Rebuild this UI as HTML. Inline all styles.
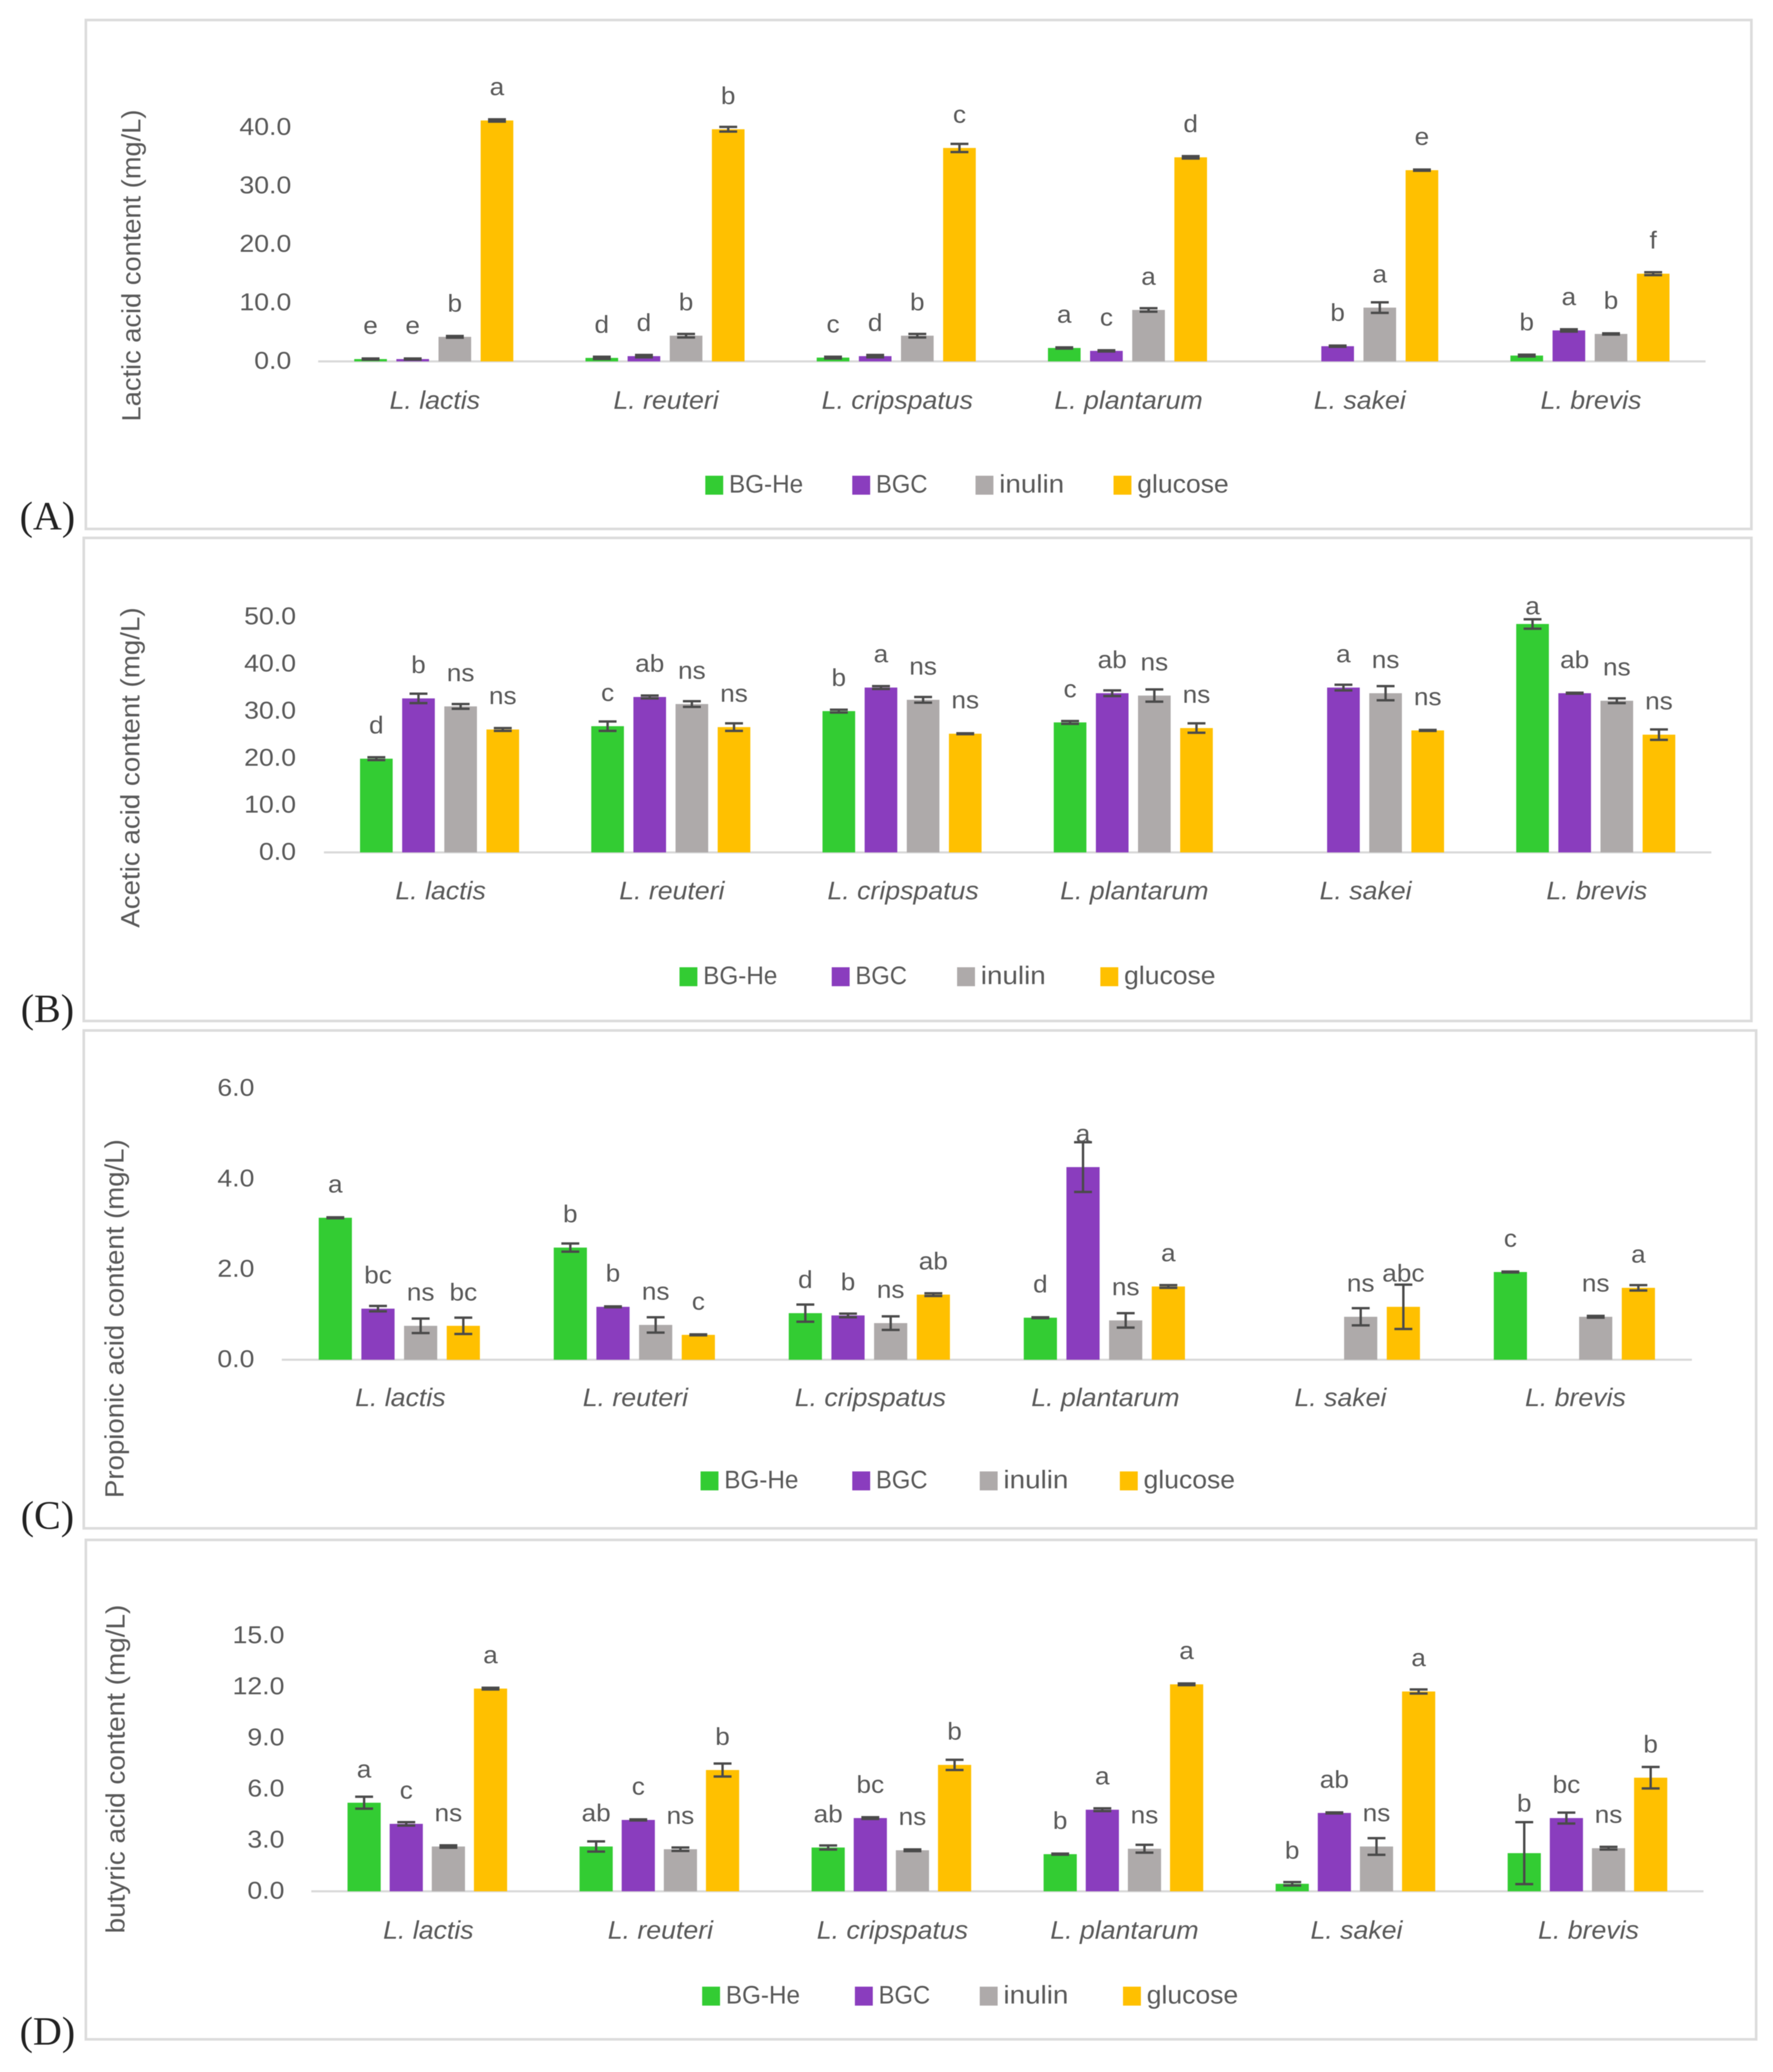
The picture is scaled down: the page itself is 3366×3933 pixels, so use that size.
<!DOCTYPE html>
<html lang="en">
<head>
<meta charset="utf-8">
<title>Organic acid content by strain and carbon source</title>
<style>
html,body{margin:0;padding:0;background:#fff;}
body{width:3366px;height:3933px;overflow:hidden;}
svg{display:block;filter:blur(0.8px);}
text{font-family:"Liberation Sans",sans-serif;fill:#595959;}
.panel-tag{font-family:"Liberation Serif",serif;fill:#222;}
</style>
</head>
<body>
<svg id="figure" xmlns="http://www.w3.org/2000/svg" width="3366" height="3933" viewBox="0 0 3366 3933"></svg>
<script>
const categories = ['L. lactis', 'L. reuteri', 'L. cripspatus', 'L. plantarum', 'L. sakei', 'L. brevis'];
const seriesNames = ['BG-He', 'BGC', 'inulin', 'glucose'];
const seriesColors = ['#33cc33', '#8a3dbe', '#aeaaaa', '#ffc000'];

// Values are listed per category: BG-He, BGC, inulin, glucose. null = no bar.
const lacticTicks = [0, 10, 20, 30, 40];
const lacticValues = [[0.4, 0.4, 4.2, 41.2], [0.6, 0.9, 4.4, 39.7], [0.65, 0.9, 4.4, 36.5], [2.3, 1.8, 8.8, 34.9], [null, 2.6, 9.2, 32.7], [1.0, 5.3, 4.7, 15.0]];
const lacticErrors = [[0.1, 0.1, 0.15, 0.2], [0.2, 0.2, 0.3, 0.4], [0.15, 0.2, 0.3, 0.7], [0.1, 0.1, 0.3, 0.2], [null, 0.1, 0.9, 0.1], [0.15, 0.2, 0.1, 0.25]];
const lacticLetters = [['e', 'e', 'b', 'a'], ['d', 'd', 'b', 'b'], ['c', 'd', 'b', 'c'], ['a', 'c', 'a', 'd'], ['', 'b', 'a', 'e'], ['b', 'a', 'b', 'f']];

const aceticTicks = [0, 10, 20, 30, 40, 50];
const aceticValues = [[19.9, 32.7, 31.0, 26.1], [26.8, 33.0, 31.5, 26.6], [30.0, 35.0, 32.4, 25.2], [27.6, 33.8, 33.3, 26.4], [null, 35.0, 33.8, 25.9], [48.5, 33.8, 32.2, 25.0]];
const aceticErrors = [[0.3, 1.0, 0.5, 0.3], [1.0, 0.3, 0.6, 0.8], [0.3, 0.3, 0.6, 0.1], [0.3, 0.6, 1.3, 1.0], [null, 0.6, 1.5, 0.1], [1.0, 0.1, 0.5, 1.1]];
const aceticLetters = [['d', 'b', 'ns', 'ns'], ['c', 'ab', 'ns', 'ns'], ['b', 'a', 'ns', 'ns'], ['c', 'ab', 'ns', 'ns'], ['', 'a', 'ns', 'ns'], ['a', 'ab', 'ns', 'ns']];

const propionicTicks = [0, 2, 4, 6];
const propionicValues = [[3.14, 1.13, 0.75, 0.75], [2.48, 1.17, 0.77, 0.55], [1.03, 0.98, 0.81, 1.44], [0.93, 4.26, 0.87, 1.62], [null, null, 0.95, 1.17], [1.94, null, 0.95, 1.59]];
const propionicErrors = [[0.01, 0.06, 0.16, 0.18], [0.09, 0.01, 0.17, 0.01], [0.19, 0.04, 0.15, 0.03], [0.01, 0.55, 0.16, 0.03], [null, null, 0.19, 0.49], [0.01, null, 0.02, 0.06]];
const propionicLetters = [['a', 'bc', 'ns', 'bc'], ['b', 'b', 'ns', 'c'], ['d', 'b', 'ns', 'ab'], ['d', 'a', 'ns', 'a'], ['', '', 'ns', 'abc'], ['c', '', 'ns', 'a']];

const butyricTicks = [0, 3, 6, 9, 12, 15];
const butyricValues = [[5.2, 3.96, 2.63, 11.9], [2.63, 4.19, 2.47, 7.12], [2.57, 4.3, 2.41, 7.42], [2.18, 4.79, 2.5, 12.15], [0.44, 4.6, 2.63, 11.73], [2.24, 4.3, 2.53, 6.67]];
const butyricErrors = [[0.35, 0.1, 0.07, 0.05], [0.3, 0.03, 0.1, 0.38], [0.12, 0.05, 0.05, 0.3], [0.03, 0.08, 0.23, 0.05], [0.1, 0.03, 0.49, 0.12], [1.82, 0.32, 0.08, 0.63]];
const butyricLetters = [['a', 'c', 'ns', 'a'], ['ab', 'c', 'ns', 'b'], ['ab', 'bc', 'ns', 'b'], ['b', 'a', 'ns', 'a'], ['b', 'ab', 'ns', 'a'], ['b', 'bc', 'ns', 'b']];

const svgNS = 'http://www.w3.org/2000/svg';
const figure = document.getElementById('figure');
const legendStretch = [0.96, 0.94, 1.1, 1.05];

function make(tag, parent, attrs, content) {
  const node = document.createElementNS(svgNS, tag);
  Object.keys(attrs).forEach(function (k) { node.setAttribute(k, attrs[k]); });
  if (content !== undefined) node.textContent = content;
  parent.appendChild(node);
  return node;
}

function stretch(node, factor) {
  node.setAttribute('lengthAdjust', 'spacingAndGlyphs');
  node.setAttribute('textLength', (node.getComputedTextLength() * factor).toFixed(1));
}

function drawPanel(cfg) {
  const group = make('g', figure, {});
  
  

  const frame = make('rect', group, {x: cfg.box[0], y: cfg.box[1], width: cfg.box[2] - cfg.box[0], height: cfg.box[3] - cfg.box[1], fill: '#fff', stroke: '#dcdcdc', 'stroke-width': 5});
  
  

  const maxTick = cfg.ticks[cfg.ticks.length - 1];
  const yScale = function (v) { return cfg.baseY - (v / maxTick) * (cfg.baseY - cfg.topY); };
  const band = (cfg.axisRight - cfg.axisLeft) / categories.length;
  const xBand = function (i) { return cfg.axisLeft + band * (i + 0.5); };
  const xBar = function (i, s) { return xBand(i) + (s - 1.5) * cfg.barPitch; };

  const title = make('text', group, {x: cfg.titleX - 2, y: cfg.titleY, 'font-size': 50, 'text-anchor': 'middle', transform: 'rotate(-90 ' + (cfg.titleX - 2) + ' ' + cfg.titleY + ')', dy: '.35em'}, cfg.title);
  title.setAttribute('textLength', cfg.titleLen);
  title.setAttribute('lengthAdjust', 'spacingAndGlyphs');
  
  

  cfg.ticks.forEach(function (t) {
    const label = make('text', group, {x: cfg.tickRight, y: yScale(t) - 2, 'font-size': 46, 'text-anchor': 'end', dy: '.35em'}, t.toFixed(1));
    stretch(label, 1.1);
    
    
  });

  const axis = make('line', group, {x1: cfg.axisLeft, x2: cfg.axisRight, y1: cfg.baseY, y2: cfg.baseY, stroke: '#d9d9d9', 'stroke-width': 4});
  
  

  categories.forEach(function (name, i) {
    const cat = make('text', group, {x: xBand(i) + 2, y: cfg.catY - 2, 'font-size': 48, 'font-style': 'italic', 'text-anchor': 'middle', dy: '.35em'}, name);
    stretch(cat, 1.055);
    
    

    seriesNames.forEach(function (seriesName, s) {
      const v = cfg.values[i][s];
      if (v === null) return;
      const e = cfg.errors[i][s];
      const cx = xBar(i, s);
      const top = yScale(v);

      const bar = make('rect', group, {x: cx - cfg.barWidth / 2, y: top, width: cfg.barWidth, height: cfg.baseY - top, fill: seriesColors[s]});
      
      

      const hi = yScale(v + e);
      const lo = yScale(v - e);
      const err = make('path', group, {d: 'M' + (cx - 17) + ' ' + hi + 'H' + (cx + 17) + 'M' + cx + ' ' + hi + 'V' + lo + 'M' + (cx - 17) + ' ' + lo + 'H' + (cx + 17), fill: 'none', stroke: '#4a4a4a', 'stroke-width': 4.5});
      
      

      const letter = cfg.letters[i][s];
      if (letter) {
        const lift = (cfg.letterLift && cfg.letterLift[i + '-' + s]) || 0;
        const sig = make('text', group, {x: cx, y: Math.max(top - 48 - lift, cfg.letterCeil), 'font-size': 46, 'text-anchor': 'middle'}, letter);
        stretch(sig, 1.08);
        
        
      }
    });
  });

  seriesNames.forEach(function (seriesName, s) {
    const sw = make('rect', group, {x: cfg.legendX[s], y: cfg.legendY - 18, width: 34, height: 36, fill: seriesColors[s]});
    
    
    const lt = make('text', group, {x: cfg.legendX[s] + 45, y: cfg.legendY - 3, 'font-size': 48, dy: '.35em'}, seriesName);
    stretch(lt, legendStretch[s]);
    
    
  });

  const tag = make('text', group, {x: 90, y: cfg.tagY, 'font-size': 76, 'text-anchor': 'middle', dy: '.3em', class: 'panel-tag'}, cfg.tag);
  
  
}

drawPanel({key: 'lactic', tag: '(A)', title: 'Lactic acid content (mg/L)', ticks: lacticTicks, values: lacticValues, errors: lacticErrors, letters: lacticLetters,
  box: [163, 38, 3325, 1004], baseY: 686, topY: 242, axisLeft: 604, axisRight: 3238, barPitch: 80, barWidth: 62,
  titleX: 251, titleY: 504, titleLen: 592, tickRight: 553, catY: 761, legendX: [1339, 1618, 1852, 2114], legendY: 921, tagY: 982, letterCeil: 0});
drawPanel({key: 'acetic', tag: '(B)', title: 'Acetic acid content (mg/L)', ticks: aceticTicks, values: aceticValues, errors: aceticErrors, letters: aceticLetters,
  box: [159, 1021, 3325, 1938], baseY: 1618, topY: 1171, axisLeft: 615, axisRight: 3249, barPitch: 80, barWidth: 62,
  titleX: 249, titleY: 1457, titleLen: 608, tickRight: 562, catY: 1692, legendX: [1290, 1579, 1817, 2089], legendY: 1854, tagY: 1917, letterCeil: 1166});
drawPanel({key: 'propionic', tag: '(C)', title: 'Propionic acid content (mg/L)', ticks: propionicTicks, values: propionicValues, errors: propionicErrors, letters: propionicLetters,
  box: [159, 1956, 3334, 2901], baseY: 2581, topY: 2066, axisLeft: 535, axisRight: 3212, barPitch: 81, barWidth: 63,
  titleX: 219, titleY: 2503, titleLen: 681, tickRight: 483, catY: 2654, legendX: [1330, 1618, 1860, 2126], legendY: 2811, tagY: 2879, letterCeil: 0});
drawPanel({key: 'butyric', tag: '(D)', title: 'butyric acid content (mg/L)', ticks: butyricTicks, values: butyricValues, errors: butyricErrors, letters: butyricLetters,
  box: [163, 2923, 3334, 3871], baseY: 3590, topY: 3105, axisLeft: 591, axisRight: 3234, barPitch: 80, barWidth: 63,
  titleX: 221, titleY: 3358, titleLen: 624, tickRight: 540, catY: 3665, legendX: [1333, 1623, 1860, 2132], legendY: 3789, tagY: 3858, letterCeil: 0,
  letterLift: {'5-0': 31}});
</script>
</body>
</html>
